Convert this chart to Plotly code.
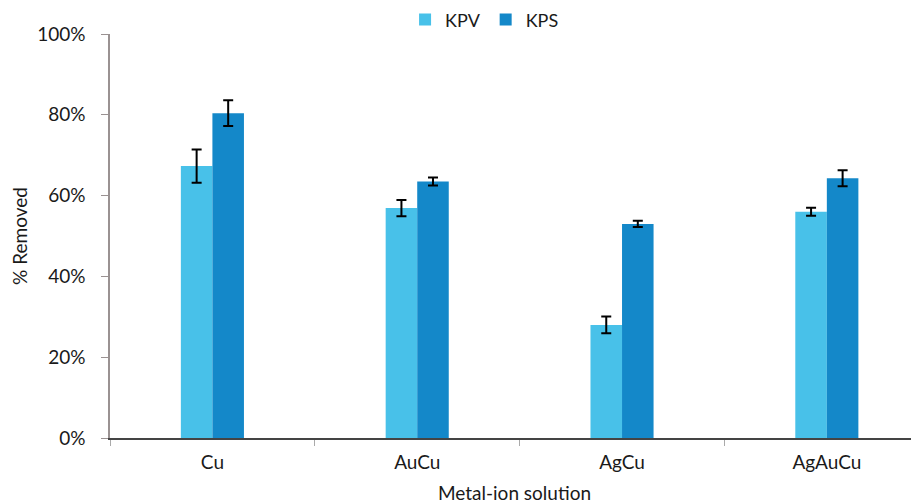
import plotly.graph_objects as go

categories = ["Cu", "AuCu", "AgCu", "AgAuCu"]
kpv = [67.3, 56.9, 28.0, 56.0]
kpv_err = [4.1, 2.0, 2.1, 1.0]
kps = [80.4, 63.5, 53.0, 64.3]
kps_err = [3.2, 1.0, 0.8, 2.0]

fig = go.Figure()
fig.add_trace(go.Bar(
    name="KPV", x=categories, y=kpv,
    marker=dict(color="#48C1E9", line=dict(width=0)),
    error_y=dict(type="data", array=kpv_err, color="black", thickness=2, width=5),
))
fig.add_trace(go.Bar(
    name="KPS", x=categories, y=kps,
    marker=dict(color="#1488C9", line=dict(width=0)),
    error_y=dict(type="data", array=kps_err, color="black", thickness=2, width=5),
))

fig.update_layout(
    width=911, height=496,
    margin=dict(l=102, r=0, t=26, b=66, autoexpand=False),
    paper_bgcolor="white", plot_bgcolor="white",
    barmode="group", bargap=0.692, bargroupgap=0,
    font=dict(family="Lato, Open Sans, sans-serif", size=19, color="#1a1a1a"),
    showlegend=True,
    legend=dict(orientation="h", x=0.463, xanchor="center", y=1.035, yanchor="middle",
                font=dict(size=18), itemwidth=30, traceorder="normal"),
    xaxis=dict(
        range=[-0.5, 3.45],
        showline=True, linecolor="#444444", linewidth=2,
        ticks="outside", tickson="boundaries", ticklen=6, tickcolor="#aaaaaa",
        ticklabelstandoff=6,
        showgrid=False, automargin=False,
        title=dict(text="Metal-ion solution", font=dict(size=19), standoff=15),
    ),
    yaxis=dict(
        range=[0, 100], dtick=20, ticksuffix="%",
        showline=True, linecolor="#9a9292", linewidth=1.5,
        ticks="outside", ticklen=7, tickcolor="#9a9292",
        ticklabelstandoff=12,
        showgrid=False, zeroline=False, automargin=False,
        title=dict(text="% Removed", font=dict(size=19), standoff=6),
    ),
)

fig.write_html("out.html")
